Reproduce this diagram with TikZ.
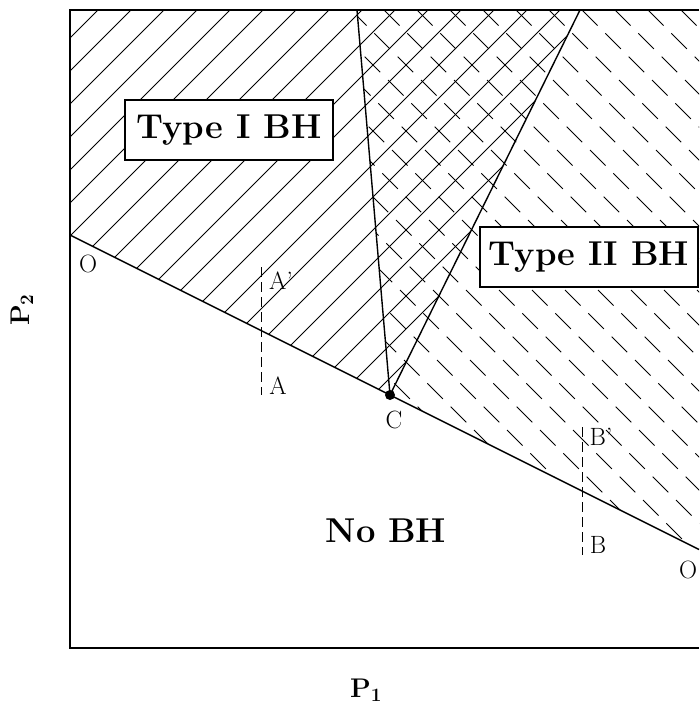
\documentclass[tikz,border=0pt]{standalone}
\usepackage{fontspec}
\begin{document}
\begin{tikzpicture}[x=1pt,y=-1pt,
  hatchline/.style={line width=0.9pt},
  dashhatch/.style={line width=0.9pt, dash pattern=on 22pt off 11pt},
  border/.style={line width=1.7pt},
  bound/.style={line width=1.4pt},
  vdash/.style={line width=1pt, dash pattern=on 10pt off 5pt},
  bigtext/.style={font=\fontsize{34.5}{40}\selectfont\bfseries},
  lbl/.style={font=\fontsize{25}{28}\selectfont, inner sep=0pt},
  axlbl/.style={font=\fontsize{27}{32}\selectfont\bfseries, inner sep=0pt},
  boxlbl/.style={draw, line width=1.6pt, fill=white, bigtext, inner sep=0pt}
]
\useasboundingbox (0,0) rectangle (699,707);
\coordinate (TL) at (70,10);
\coordinate (BL) at (70,648);
\coordinate (TR) at (699,10);
\coordinate (BR) at (699,648);
\coordinate (O1) at (70,235);
\coordinate (O2) at (699,549.5);
\coordinate (C) at (390,395);
\coordinate (L) at (357,10);
\coordinate (R) at (580,10);
% Type I hatching
\begin{scope}
  \clip (TL) -- (R) -- (C) -- (O1) -- cycle;
  \foreach \k in {-1,...,22}
    \draw[hatchline] ({108+33*\k+60},-60) -- ({108+33*\k-760},760);
\end{scope}
% Type II hatching
\begin{scope}
  \clip (L) -- (TR) -- (O2) -- (C) -- cycle;
  \foreach \k in {-20,...,5}
    \draw[dashhatch] ({572+33*\k-60},-60) -- ({572+33*\k+760},760);
\end{scope}
% boundaries
\draw[bound] (L) -- (C) -- (R);
\draw[bound] (O1) -- (O2);
\draw[border] (TR) -- (TL) -- (BL) -- (BR);
\fill (C) circle (5pt);
% dashed verticals
\coordinate (Atop) at (261,267);
\coordinate (Abot) at (261,395);
\coordinate (Btop) at (582,427);
\coordinate (Bbot) at (582,555);
\draw[vdash] (Atop) -- (Abot);
\draw[vdash] (Btop) -- (Bbot);
% labels
\node[lbl] (lO1) at (88,264) {O};
\node[lbl] (lAp) at (281,281) {A'};
\node[lbl] (lA) at (278,386) {A};
\node[lbl] (lC) at (394,420) {C};
\node[lbl] (lBp) at (601,437) {B'};
\node[lbl] (lB) at (598,545) {B};
\node[lbl] (lO2) at (688,570) {O};
\node[boxlbl, minimum width=208pt, minimum height=60pt] (t1) at (229,130) {Type I BH};
\node[boxlbl, minimum width=218pt, minimum height=60pt] (t2) at (589,257) {Type II BH};
\node[bigtext, inner sep=0pt] (nobh) at (386,531) {No BH};
\node[axlbl] (p1) at (366,690) {P\textsubscript{1}};
\node[axlbl, rotate=90] (p2) at (22,310) {P\textsubscript{2}};
\end{tikzpicture}
\end{document}
